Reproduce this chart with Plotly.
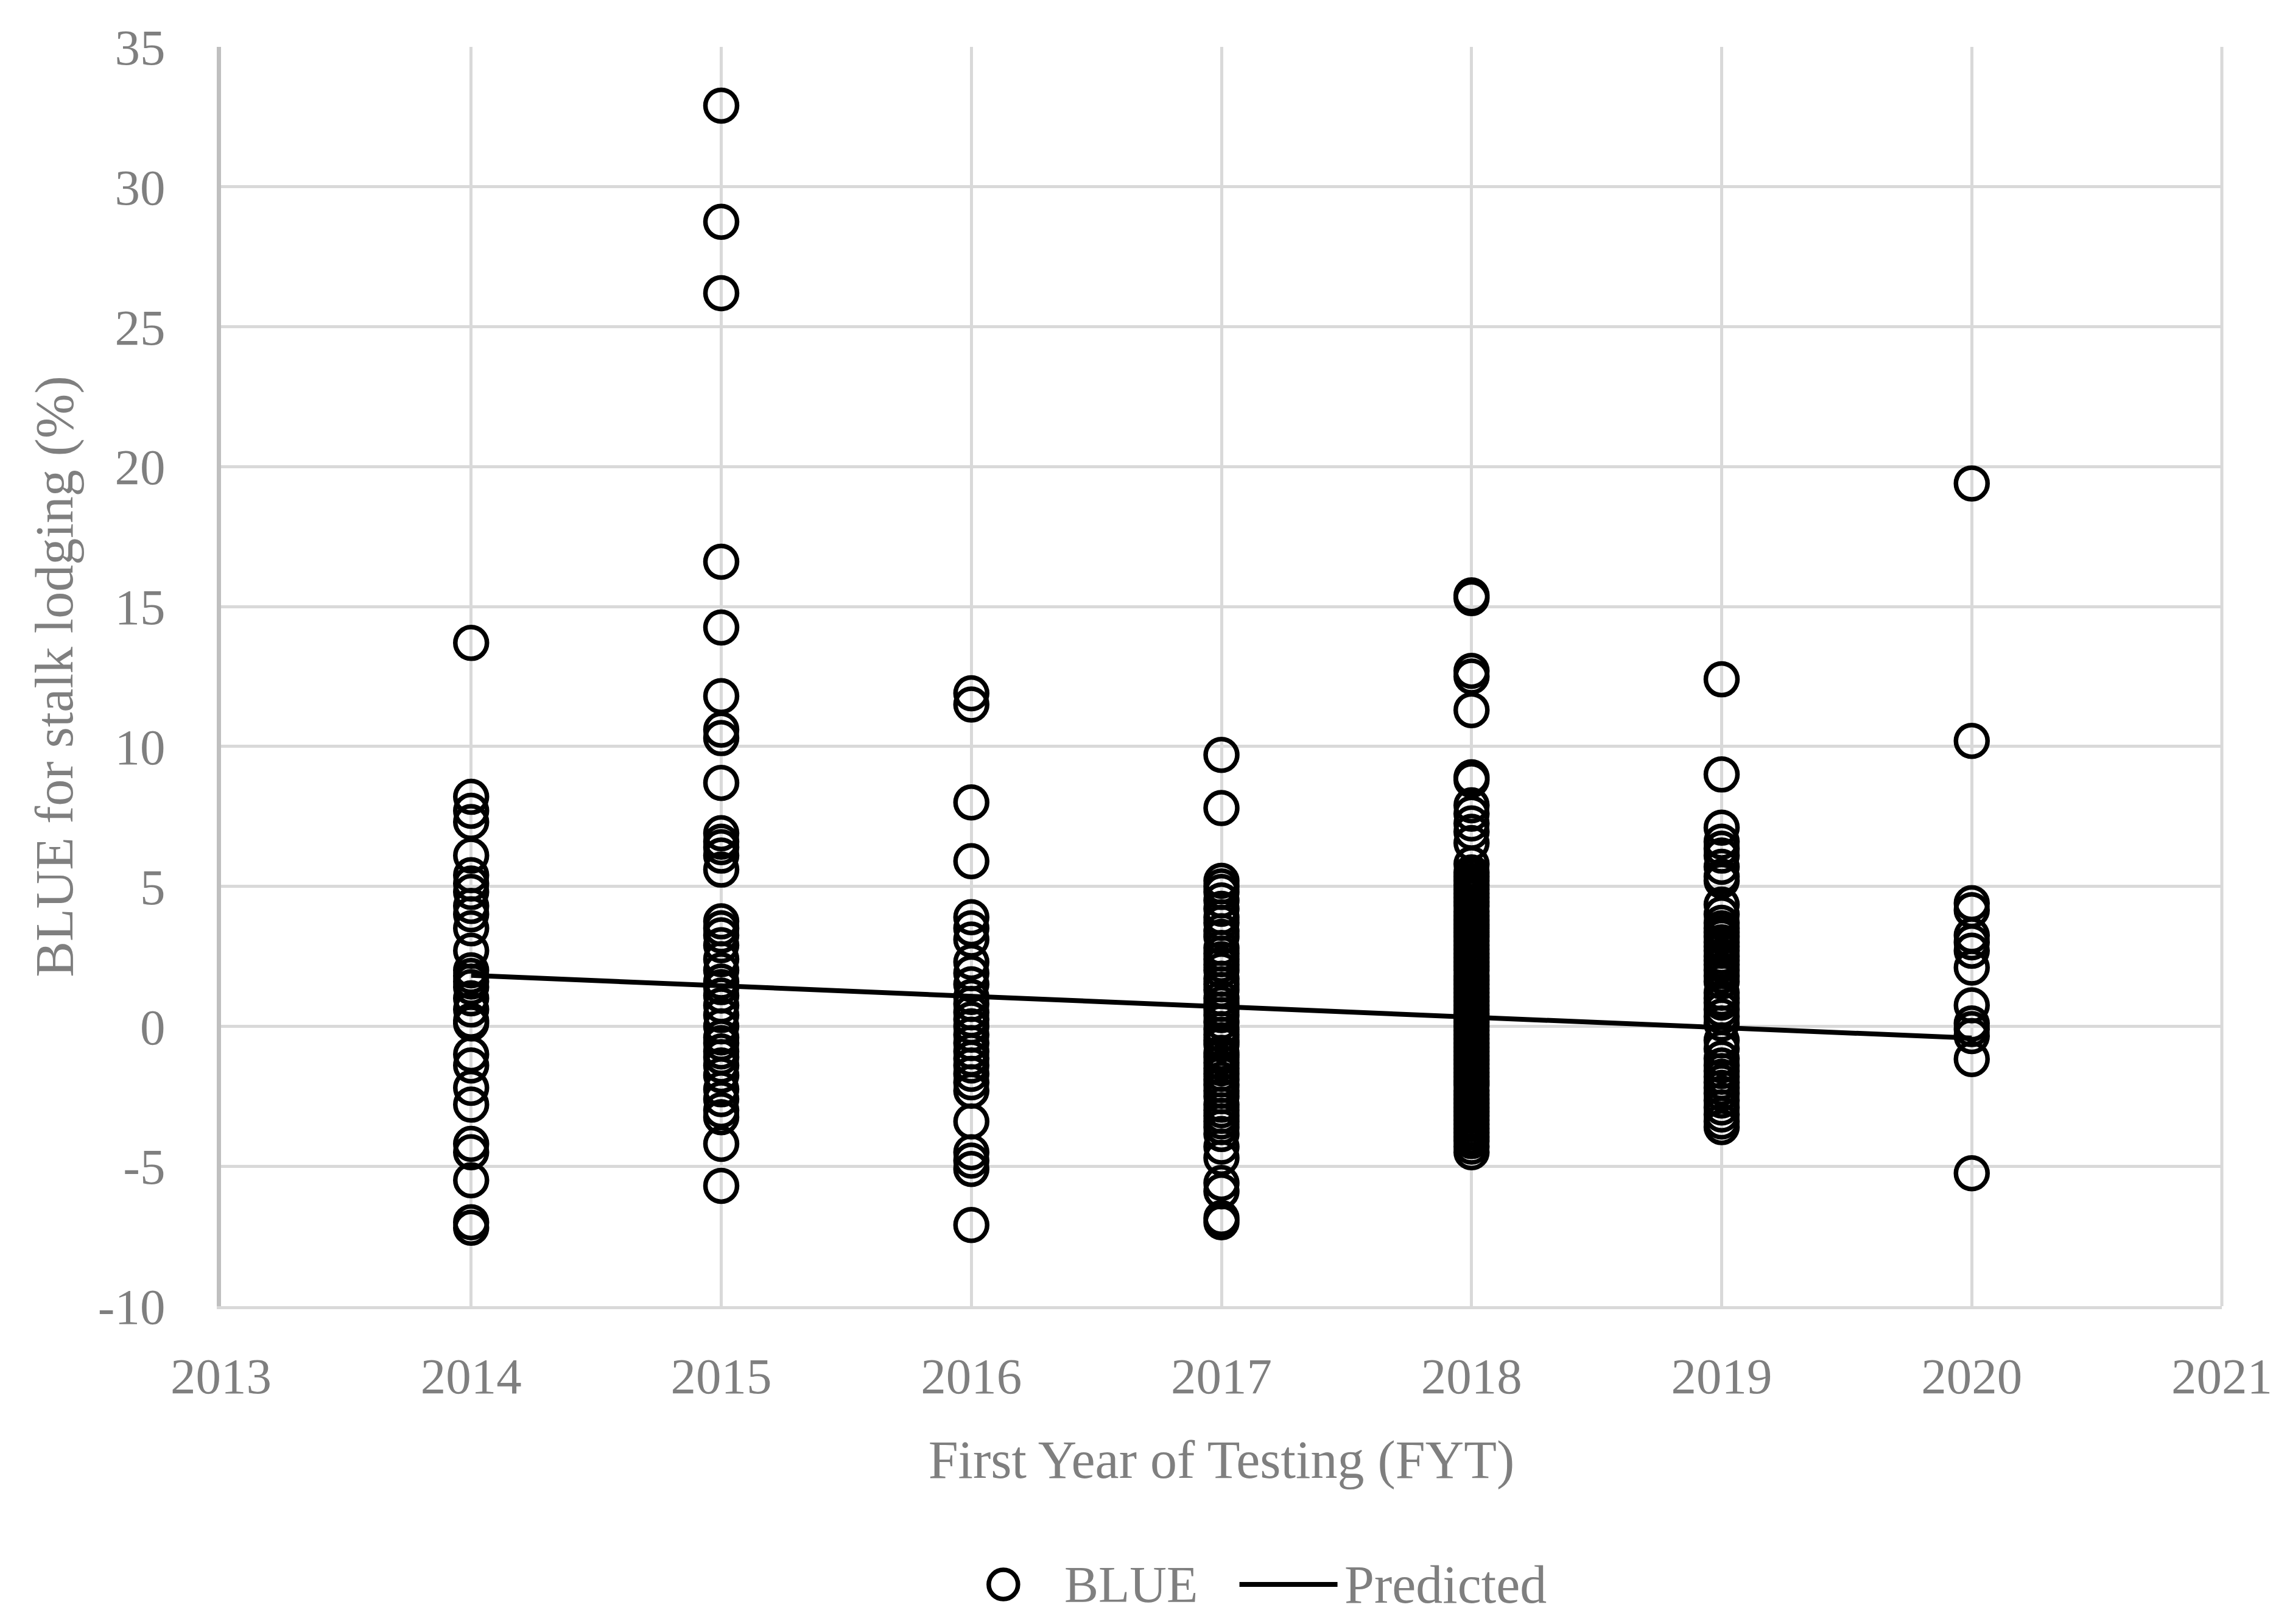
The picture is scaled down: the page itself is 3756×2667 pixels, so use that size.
import plotly.graph_objects as go

# ---- data ----
years = [2014, 2015, 2016, 2017, 2018, 2019, 2020]

blue_2014 = [13.7, 8.2, 7.7, 7.3, 6.1, 5.4, 5.1, 4.8, 4.3, 4.0, 3.5, 2.7, 2.0, 1.8, 1.6, 1.4,
             1.0, 0.6, 0.2, 0.1, -1.0, -1.4, -2.2, -2.8, -4.2, -4.5, -5.5, -7.0, -7.2]
blue_2015 = [32.9, 28.75, 26.2, 16.6, 14.25, 11.8, 10.6, 10.3, 8.7, 6.9, 6.6, 6.4, 6.1, 5.6,
             3.75, 3.5, 3.25, 2.9, 2.4, 2.0, 1.6, 1.4, 1.1, 0.75, 0.4, 0.0, -0.4, -0.6, -0.9,
             -1.1, -1.4, -1.75, -2.25, -2.6, -3.0, -3.25, -4.2, -5.7]
blue_2016 = [11.9, 11.5, 8.0, 5.9, 3.9, 3.5, 3.1, 2.3, 1.9, 1.5, 1.05, 0.8, 0.5, 0.25, 0.0,
             -0.3, -0.6, -0.9, -1.15, -1.4, -1.7, -2.0, -2.3, -3.4, -4.5, -4.8, -5.1, -7.1]
blue_2017 = [9.7, 7.8, 5.2, 5.0, 4.8, 4.5, 4.2, 3.9, 3.7, 3.4, 3.2, 2.8, 2.6, 2.4, 2.2, 2.0,
             1.7, 1.5, 1.3, 1.0, 0.8, 0.6, 0.4, 0.15, -0.1, -0.3, -0.5, -0.65, -0.95, -1.1,
             -1.3, -1.5, -1.7, -1.9, -2.1, -2.3, -2.5, -2.8, -3.0, -3.2, -3.4, -3.6, -3.85,
             -4.3, -4.7, -5.6, -5.9, -6.85, -7.0]
blue_2018 = [15.4, 15.3, 12.7, 12.5, 11.3, 8.9, 8.8, 7.9, 7.6, 7.25, 6.95, 6.55, 5.8, 5.5, 5.35,
             5.2, 5.05, 4.9, 4.75, 4.6, 4.45, 4.3, 4.1, 3.95, 3.8, 3.65, 3.5, 3.35, 3.2, 3.05,
             2.9, 2.75, 2.6, 2.45, 2.3, 2.15, 2.0, 1.8, 1.65, 1.5, 1.35, 1.2, 1.05, 0.9, 0.75,
             0.6, 0.45, 0.3, 0.15, 0.0, -0.15, -0.3, -0.45, -0.6, -0.75, -0.9, -1.05, -1.2,
             -1.35, -1.5, -1.65, -1.8, -1.95, -2.1, -2.3, -2.45, -2.6, -2.75, -2.9, -3.05,
             -3.2, -3.35, -3.5, -3.65, -3.8, -3.95, -4.1, -4.3, -4.5]
blue_2019 = [12.4, 9.0, 7.1, 6.6, 6.35, 6.1, 5.7, 5.35, 5.2, 4.35, 4.0, 3.7, 3.5, 3.35, 3.2,
             3.0, 2.85, 2.7, 2.5, 2.35, 2.2, 2.0, 1.8, 1.6, 1.2, 1.0, 0.85, 0.6, 0.35, 0.1,
             -0.5, -0.8, -1.15, -1.4, -1.6, -1.8, -2.0, -2.2, -2.4, -2.65, -2.9, -3.15, -3.4,
             -3.6]
blue_2020 = [19.4, 10.2, 4.4, 4.15, 3.25, 3.0, 2.7, 2.1, 0.75, 0.1, -0.1, -0.35, -1.17, -5.25]

predicted = [1.82, 1.45, 1.08, 0.70, 0.33, -0.05, -0.42]

x_ticks = list(range(2013, 2022))
y_ticks = list(range(-10, 36, 5))

# ---- build scatter arrays ----
groups = [blue_2014, blue_2015, blue_2016, blue_2017, blue_2018, blue_2019, blue_2020]
bx, by = [], []
for yr, vals in zip(years, groups):
    bx += [yr] * len(vals)
    by += vals

FONT = "Liberation Serif"
GREY = "#7f7f7f"
MARK_SIZE = 52
MARK_LW = 7.5

fig = go.Figure()
fig.add_trace(go.Scatter(
    x=bx, y=by, mode="markers", name="BLUE", showlegend=False,
    marker=dict(symbol="circle-open", size=MARK_SIZE, color="black",
                line=dict(color="black", width=MARK_LW)),
))
fig.add_trace(go.Scatter(
    x=years, y=predicted, mode="lines", name="Predicted", showlegend=False,
    line=dict(color="black", width=8),
))

fig.update_layout(
    width=3756, height=2667,
    paper_bgcolor="white", plot_bgcolor="white",
    margin=dict(l=355, r=115, t=69, b=530),
    font=dict(family=FONT, color=GREY, size=82),
    showlegend=False,
)
fig.update_xaxes(
    range=[2013, 2021], tickvals=x_ticks, ticktext=[str(v) for v in x_ticks],
    showgrid=True, gridcolor="#d9d9d9", gridwidth=5,
    showline=True, linecolor="#d9d9d9", linewidth=5,
    zeroline=False, ticks="", ticklabelstandoff=38,
    tickfont=dict(family=FONT, size=83, color=GREY),
    title=dict(text="First Year of Testing (FYT)", standoff=62,
               font=dict(family=FONT, size=88, color=GREY)),
)
fig.update_yaxes(
    range=[-10, 35], tickvals=y_ticks, ticktext=[str(v) for v in y_ticks],
    showgrid=True, gridcolor="#d9d9d9", gridwidth=5,
    showline=True, linecolor="#bfbfbf", linewidth=7,
    zeroline=False, ticks="", ticklabelstandoff=68,
    tickfont=dict(family=FONT, size=83, color=GREY),
    title=dict(text="BLUE for stalk lodging (%)", standoff=14,
               font=dict(family=FONT, size=88, color=GREY)),
)
fig.add_shape(type="line", xref="paper", yref="paper", x0=1, x1=1, y0=0, y1=1,
              line=dict(color="#d9d9d9", width=5), layer="below")

# ---- legend drawn below the plot ----
LEG_Y = -0.221
fig.add_shape(type="circle", xref="paper", yref="paper",
              xsizemode="pixel", ysizemode="pixel",
              xanchor=0.391, yanchor=LEG_Y, x0=-24, x1=24, y0=-24, y1=24,
              line=dict(color="black", width=MARK_LW))
fig.add_annotation(text="BLUE", xref="paper", yref="paper", x=0.421, y=LEG_Y,
                   xanchor="left", yanchor="middle", showarrow=False,
                   font=dict(family=FONT, size=84, color=GREY))
fig.add_shape(type="line", xref="paper", yref="paper", x0=0.509, x1=0.558,
              y0=LEG_Y, y1=LEG_Y, line=dict(color="black", width=8))
fig.add_annotation(text="Predicted", xref="paper", yref="paper", x=0.561, y=LEG_Y,
                   xanchor="left", yanchor="middle", showarrow=False,
                   font=dict(family=FONT, size=88, color=GREY))

fig.write_html("out.html")
